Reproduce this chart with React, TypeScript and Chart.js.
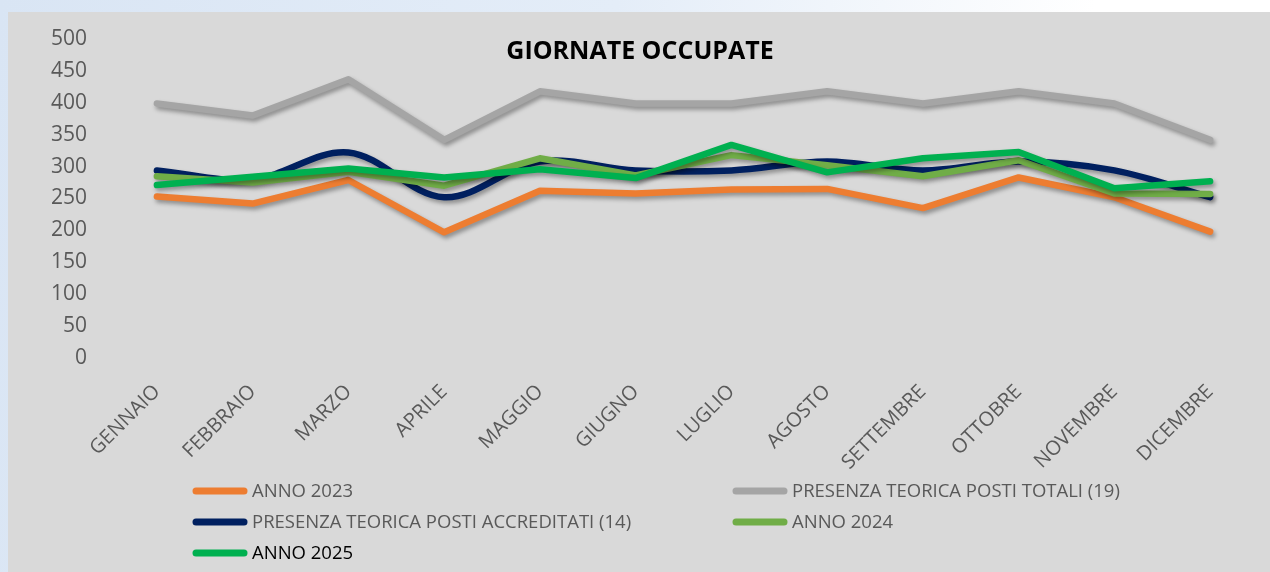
import React, { useEffect, useRef } from "react";
import { Chart, registerables } from "chart.js";

Chart.register(...registerables);

const months = ["GENNAIO", "FEBBRAIO", "MARZO", "APRILE", "MAGGIO", "GIUGNO", "LUGLIO", "AGOSTO", "SETTEMBRE", "OTTOBRE", "NOVEMBRE", "DICEMBRE"];
const anno2023 = [253, 242, 279, 197, 262, 258, 264, 265, 235, 283, 252, 198];
const postiTotali19 = [399, 380, 437, 342, 418, 399, 399, 418, 399, 418, 399, 342];
const postiAccreditati14 = [294, 280, 322, 252, 308, 294, 294, 308, 294, 308, 294, 252];
const anno2024 = [285, 275, 292, 270, 313, 286, 318, 302, 285, 310, 258, 257];
const anno2025 = [271, 284, 297, 283, 296, 282, 334, 291, 313, 323, 266, 277];
const yTicks = { min: 0, max: 500, step: 50 };
const chartTitle = "GIORNATE OCCUPATE";

const FONT = "'Open Sans', sans-serif";

const shadowPlugin = {
  id: "lineShadow",
  beforeDatasetDraw(chart: any) {
    const ctx = chart.ctx;
    ctx.save();
    ctx.shadowColor = "rgba(0,0,0,0.35)";
    ctx.shadowBlur = 4;
    ctx.shadowOffsetX = 2;
    ctx.shadowOffsetY = 3;
  },
  afterDatasetDraw(chart: any) {
    chart.ctx.restore();
  },
};

const titlePlugin = {
  id: "overlayTitle",
  afterDraw(chart: any) {
    const ctx = chart.ctx;
    ctx.save();
    ctx.font = `bold 25px ${FONT}`;
    ctx.fillStyle = "#000000";
    ctx.textAlign = "center";
    ctx.textBaseline = "middle";
    ctx.fillText(chartTitle, 632, 40);
    ctx.restore();
  },
};

const legendPlugin = {
  id: "gridLegend",
  afterDraw(chart: any) {
    const ctx = chart.ctx;
    const cols = [185, 725];
    const rows = [479, 510, 541];
    const textColors = ["#595959", "#595959", "#595959", "#595959", "#000000"];
    ctx.save();
    ctx.font = `18.5px ${FONT}`;
    ctx.textBaseline = "middle";
    ctx.textAlign = "left";
    chart.data.datasets.forEach((ds: any, i: number) => {
      const x = cols[i % 2];
      const y = rows[Math.floor(i / 2)];
      ctx.strokeStyle = ds.borderColor;
      ctx.lineWidth = 7;
      ctx.lineCap = "round";
      ctx.beginPath();
      ctx.moveTo(x + 3, y);
      ctx.lineTo(x + 51, y);
      ctx.stroke();
      ctx.fillStyle = textColors[i];
      ctx.fillText(ds.label, x + 59, y + 1);
    });
    ctx.restore();
  },
};

export default function App() {
  const canvasRef = useRef<HTMLCanvasElement | null>(null);

  useEffect(() => {
    if (!canvasRef.current) return;
    const common = {
      fill: false,
      pointRadius: 0,
      pointHoverRadius: 0,
      borderWidth: 6.5,
      borderCapStyle: "round",
      borderJoinStyle: "round",
    };
    const chart = new Chart(canvasRef.current, {
      type: "line",
      data: {
        labels: months,
        datasets: [
          { ...common, label: "ANNO 2023", data: anno2023, borderColor: "#ED7D31", backgroundColor: "#ED7D31", order: 4, tension: 0 },
          { ...common, label: "PRESENZA TEORICA POSTI TOTALI (19)", data: postiTotali19, borderColor: "#A5A5A5", backgroundColor: "#A5A5A5", order: 3, tension: 0 },
          { ...common, label: "PRESENZA TEORICA POSTI ACCREDITATI (14)", data: postiAccreditati14, borderColor: "#002060", backgroundColor: "#002060", order: 2, tension: 0.35 },
          { ...common, label: "ANNO 2024", data: anno2024, borderColor: "#70AD47", backgroundColor: "#70AD47", order: 1, tension: 0 },
          { ...common, label: "ANNO 2025", data: anno2025, borderColor: "#00B050", backgroundColor: "#00B050", order: 0, tension: 0 },
        ],
      } as any,
      options: {
        animation: false,
        responsive: false,
        layout: { padding: { top: 27, right: 12, bottom: 0, left: 0 } },
        plugins: {
          legend: { display: false },
          title: { display: false },
          tooltip: { enabled: false },
        },
        scales: {
          x: {
            offset: true,
            grid: { display: false, drawTicks: false },
            border: { display: false },
            afterFit(scale: any) {
              scale.height = 214;
            },
            ticks: {
              autoSkip: false,
              minRotation: 45,
              maxRotation: 45,
              padding: 22,
              color: "#595959",
              font: { family: FONT, size: 20 },
            },
          },
          y: {
            min: yTicks.min,
            max: yTicks.max,
            grid: { display: false, drawTicks: false },
            border: { display: false },
            afterFit(scale: any) {
              scale.width = 101;
              scale.paddingTop = 0;
              scale.paddingBottom = 0;
            },
            ticks: {
              stepSize: yTicks.step,
              padding: 22,
              color: "#595959",
              font: { family: FONT, size: 21 },
            },
          },
        },
      } as any,
      plugins: [shadowPlugin, titlePlugin, legendPlugin],
    });
    return () => chart.destroy();
  }, []);

  return (
    <>
      <div
        style={{
          position: "fixed",
          inset: 0,
          background: "linear-gradient(100deg, #d9e5f4 0%, #e4edf8 45%, #ffffff 80%)",
        }}
      />
      <div
        style={{
          position: "fixed",
          left: 8,
          top: 12,
          width: 1262,
          height: 560,
          background: "#d9d9d9",
        }}
      >
        <canvas ref={canvasRef} width={1262} height={560} style={{ display: "block" }} />
      </div>
    </>
  );
}
